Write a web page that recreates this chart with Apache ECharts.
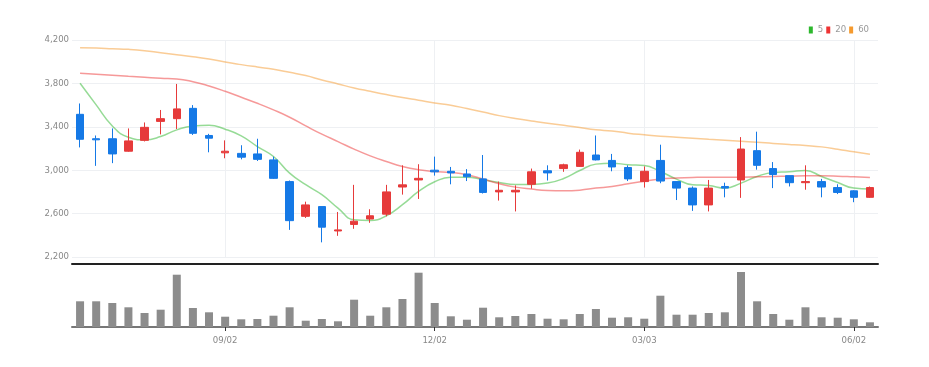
<!DOCTYPE html>
<html>
<head>
<meta charset="utf-8">
<script src="https://cdn.jsdelivr.net/npm/echarts@6/dist/echarts.min.js"></script>
<style>
  html, body { margin: 0; padding: 0; background: #fff; }
  #chart { width: 929px; height: 367px; }
</style>
</head>
<body>
<div id="chart"></div>
<script>
// weekly candles, 2024-07-01 .. 2025-06-09
const categories = [
  '07/01','07/08','07/15','07/22','07/29','08/05','08/12','08/19','08/26','09/02',
  '09/09','09/16','09/23','09/30','10/07','10/14','10/21','10/28','11/04','11/11',
  '11/18','11/25','12/02','12/09','12/16','12/23','12/30','01/06','01/13','01/20',
  '01/27','02/03','02/10','02/17','02/24','03/03','03/10','03/17','03/24','03/31',
  '04/07','04/14','04/21','04/28','05/05','05/12','05/19','05/26','06/02','06/09'
];

// [open, close, low, high]
const candles = [
  [3515, 3285, 3210, 3615], [3290, 3280, 3040, 3320], [3290, 3150, 3065, 3385], [3175, 3270, 3170, 3385],
  [3275, 3395, 3265, 3440], [3450, 3475, 3330, 3555], [3475, 3565, 3380, 3795], [3570, 3340, 3325, 3600],
  [3320, 3295, 3165, 3335], [3160, 3175, 3110, 3275], [3155, 3120, 3100, 3230], [3150, 3100, 3085, 3290],
  [3095, 2925, 2920, 3125], [2895, 2535, 2450, 2905], [2575, 2680, 2560, 2710], [2665, 2475, 2335, 2665],
  [2440, 2450, 2395, 2615], [2500, 2530, 2460, 2865], [2550, 2580, 2515, 2640], [2595, 2800, 2575, 2865],
  [2845, 2865, 2775, 3045], [2910, 2925, 2735, 3055], [3000, 2985, 2950, 3125], [2990, 2975, 2870, 3030],
  [2965, 2940, 2900, 3010], [2920, 2795, 2785, 3140], [2800, 2815, 2720, 2895], [2800, 2815, 2620, 2860],
  [2870, 2985, 2830, 3015], [2995, 2975, 2905, 3045], [3015, 3050, 2985, 3060], [3035, 3165, 3030, 3190],
  [3140, 3095, 3090, 3320], [3090, 3030, 2990, 3150], [3025, 2920, 2900, 3045], [2895, 2990, 2840, 3035],
  [3090, 2900, 2880, 3235], [2895, 2835, 2725, 2895], [2835, 2680, 2625, 2850], [2680, 2835, 2620, 2910],
  [2850, 2835, 2750, 2885], [2910, 3195, 2745, 3305], [3180, 3045, 3005, 3355], [3015, 2960, 2835, 3075],
  [2950, 2885, 2850, 2950], [2885, 2895, 2820, 3045], [2895, 2845, 2750, 2920], [2840, 2795, 2780, 2870],
  [2810, 2750, 2705, 2815], [2750, 2840, 2745, 2850]
];

const volumes = [
  257, 257, 240, 197, 140, 173, 523, 190, 147, 103,
  77, 80, 113, 197, 63, 80, 57, 273, 113, 197,
  280, 543, 240, 107, 73, 193, 97, 110, 130, 83,
  77, 130, 180, 93, 97, 83, 313, 123, 123, 140,
  147, 550, 257, 130, 73, 197, 97, 93, 77, 47
];

const ma5 = [
  3801, 3602, 3408, 3304, 3280, 3310, 3372, 3408, 3415, 3378,
  3316, 3218, 3126, 2973, 2866, 2774, 2651, 2543, 2537, 2580,
  2682, 2804, 2893, 2936, 2936, 2912, 2887, 2869, 2869, 2881,
  2924, 2997, 3056, 3065, 3050, 3043, 2988, 2918, 2866, 2859,
  2835, 2881, 2942, 2979, 2985, 2997, 2942, 2887, 2835, 2826
];

const ma20 = [
  3893, 3884, 3875, 3865, 3856, 3847, 3841, 3816, 3776, 3727,
  3672, 3617, 3556, 3488, 3408, 3332, 3264, 3194, 3132, 3080,
  3034, 3004, 2988, 2979, 2958, 2918, 2875, 2844, 2826, 2813,
  2810, 2816, 2835, 2850, 2875, 2899, 2918, 2927, 2933, 2936,
  2936, 2936, 2939, 2942, 2945, 2948, 2948, 2945, 2939, 2933
];

const ma60 = [
  4129, 4126, 4120, 4114, 4102, 4083, 4065, 4046, 4025, 3997,
  3973, 3951, 3930, 3902, 3872, 3832, 3795, 3758, 3727, 3697,
  3669, 3645, 3620, 3599, 3568, 3537, 3503, 3476, 3454, 3433,
  3415, 3393, 3372, 3362, 3341, 3326, 3313, 3304, 3295, 3286,
  3277, 3267, 3258, 3246, 3237, 3227, 3215, 3194, 3169, 3148
];

const upColor = '#e63a3a';
const downColor = '#1579e6';
const labelFont = '"Liberation Sans Narrow", "DejaVu Sans Condensed", sans-serif';
const showTick = (idx) => idx % 13 === 9;

const chart = echarts.init(document.getElementById('chart'));

const maLine = (name, data, color) => ({
  name: name,
  type: 'line',
  data: data,
  xAxisIndex: 0,
  yAxisIndex: 0,
  smooth: true,
  symbol: 'none',
  itemStyle: { color: color },
  lineStyle: { color: color, width: 1.5, opacity: 0.5 },
  z: 3
});

chart.setOption({
  animation: false,
  backgroundColor: '#fff',
  legend: {
    data: ['5', '20', '60'],
    right: 55,
    top: 20,
    icon: 'rect',
    itemWidth: 4,
    itemHeight: 7,
    itemGap: 3,
    textStyle: { color: '#999', fontSize: 9.5, fontFamily: labelFont }
  },
  grid: [
    { left: 72, right: 51, top: 40, height: 217 },
    { left: 72, right: 51, top: 264, height: 63 }
  ],
  xAxis: [
    {
      type: 'category',
      gridIndex: 0,
      data: categories,
      boundaryGap: true,
      offset: 7,
      axisLine: { lineStyle: { color: '#222', width: 2 } },
      axisTick: { show: false },
      axisLabel: { show: false },
      splitLine: {
        show: true,
        interval: (idx) => showTick(idx),
        alignWithLabel: true,
        lineStyle: { color: '#eef0f3', width: 1 }
      }
    },
    {
      type: 'category',
      gridIndex: 1,
      data: categories,
      boundaryGap: true,
      axisLine: { lineStyle: { color: '#777', width: 2 } },
      axisTick: {
        show: true,
        alignWithLabel: true,
        interval: (idx) => showTick(idx),
        length: 4,
        lineStyle: { color: '#333' }
      },
      axisLabel: {
        interval: (idx) => showTick(idx),
        color: '#888',
        fontSize: 9.5,
        fontFamily: labelFont,
        margin: 9
      },
      splitLine: { show: false }
    }
  ],
  yAxis: [
    {
      type: 'value',
      gridIndex: 0,
      min: 2200,
      max: 4200,
      interval: 400,
      axisLine: { show: false },
      axisTick: { show: false },
      axisLabel: {
        color: '#888',
        fontSize: 9.5,
        fontFamily: labelFont,
        margin: 3,
        formatter: (v) => v.toLocaleString('en-US')
      },
      splitLine: { lineStyle: { color: '#eef0f3' } }
    },
    {
      type: 'value',
      gridIndex: 1,
      min: 0,
      max: 630,
      axisLine: { show: false },
      axisTick: { show: false },
      axisLabel: { show: false },
      splitLine: { show: false }
    }
  ],
  series: [
    {
      name: 'price',
      type: 'candlestick',
      xAxisIndex: 0,
      yAxisIndex: 0,
      data: candles,
      barWidth: 8,
      itemStyle: {
        color: upColor,
        color0: downColor,
        borderColor: upColor,
        borderColor0: downColor,
        borderWidth: 1
      },
      z: 4
    },
    maLine('5', ma5, '#2db82d'),
    maLine('20', ma20, '#ee3333'),
    maLine('60', ma60, '#f59a2e'),
    {
      name: 'volume',
      type: 'bar',
      xAxisIndex: 1,
      yAxisIndex: 1,
      data: volumes,
      barWidth: 8,
      itemStyle: { color: '#8c8c8c' }
    }
  ]
});
</script>
</body>
</html>
